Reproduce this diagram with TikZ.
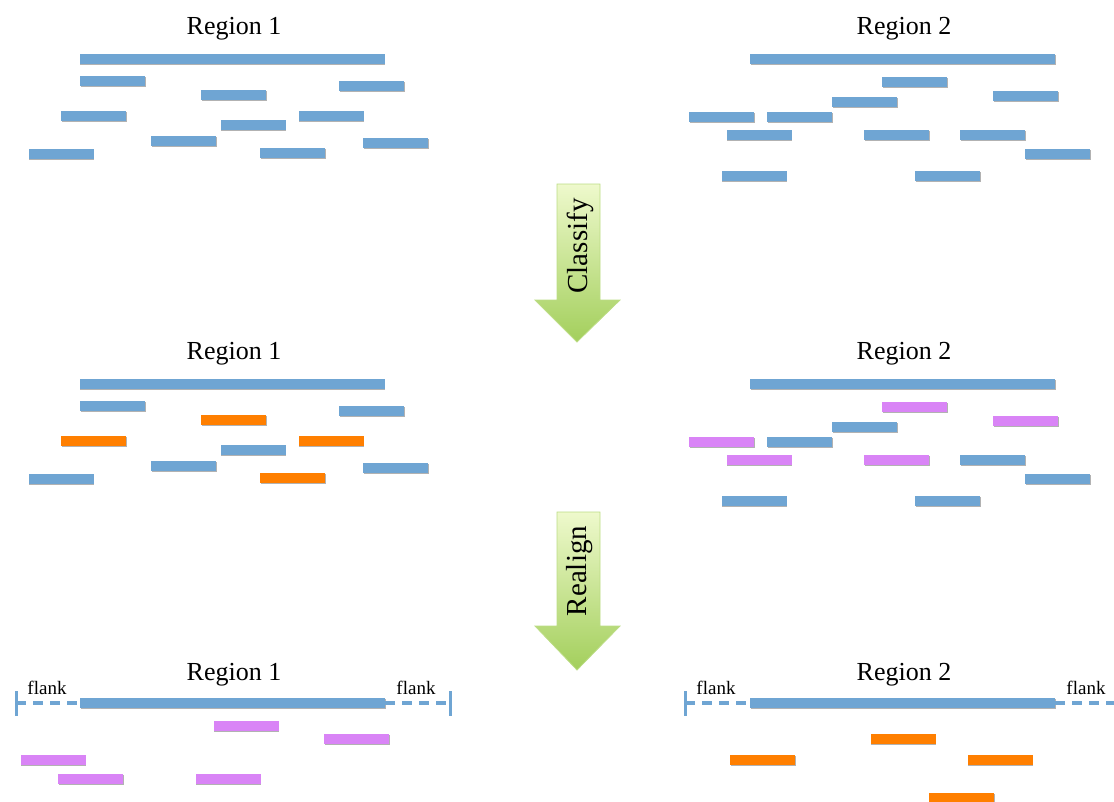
\documentclass[tikz,border=0pt]{standalone}
\usepackage{fontspec}
\setmainfont{Liberation Serif}
\usetikzlibrary{shadows}

\definecolor{readblue}{HTML}{6FA5D3}
\definecolor{readorange}{HTML}{FF7F00}
\definecolor{readviolet}{HTML}{D984F6}
\definecolor{arrowtop}{HTML}{EEF9CC}
\definecolor{arrowbot}{HTML}{A3CF5C}
\definecolor{arrowedge}{HTML}{BCDC85}

\tikzset{
  read/.style={rectangle, minimum width=65pt, minimum height=10pt,
    inner sep=0pt, outer sep=0pt,
    drop shadow={shadow xshift=0.6pt, shadow yshift=-1.2pt, opacity=0.3, fill=black}},
  contig/.style={read, fill=readblue, minimum width=305pt},
  regionlabel/.style={anchor=base, inner sep=0pt, font=\fontsize{26}{30}\selectfont},
  flanklabel/.style={anchor=base, inner sep=0pt, font=\fontsize{19}{22}\selectfont},
  flankline/.style={readblue, line width=4pt, dash pattern=on 10pt off 7pt},
  flanktick/.style={readblue, line width=3pt},
  steparrow/.style={top color=arrowtop, bottom color=arrowbot, draw=arrowedge, line width=0.8pt},
  steplabel/.style={rotate=90, inner sep=0pt, font=\fontsize{29}{33}\selectfont}
}

% \readbar{name}{centre x}{centre y}{colour}
\newcommand\readbar[4]{\node[read, fill=#4] (#1) at (#2,#3) {};}

\begin{document}
\begin{tikzpicture}[x=1pt, y=-1pt]
\useasboundingbox (0,0) rectangle (1114,801);

% ---------- raw reads ----------
\node[regionlabel] (t1) at (234,34) {Region 1};
\node[regionlabel] (t2) at (904,34) {Region 2};
\node[contig] (c1a) at (232,59) {};
\node[contig] (c2a) at (902.5,59) {};

\readbar{a1}{112.5}{81}{readblue}
\readbar{a2}{233.5}{95}{readblue}
\readbar{a3}{371.5}{86}{readblue}
\readbar{a4}{93.5}{116}{readblue}
\readbar{a5}{253}{125}{readblue}
\readbar{a6}{331}{116}{readblue}
\readbar{a7}{183.5}{141}{readblue}
\readbar{a8}{61}{154}{readblue}
\readbar{a9}{292.5}{153}{readblue}
\readbar{a10}{395.5}{143}{readblue}

\readbar{b1}{914.5}{82}{readblue}
\readbar{b2}{864.5}{102}{readblue}
\readbar{b3}{1025.5}{96}{readblue}
\readbar{b4}{721.5}{117}{readblue}
\readbar{b5}{799.5}{117}{readblue}
\readbar{b6}{759}{135}{readblue}
\readbar{b7}{896.5}{135}{readblue}
\readbar{b8}{992.5}{135}{readblue}
\readbar{b9}{1057.5}{154}{readblue}
\readbar{b10}{754}{176}{readblue}
\readbar{b11}{947.5}{176}{readblue}

% ---------- Classify arrow ----------
\shade[steparrow] (557,184) -- (600,184) -- (600,300) -- (620,300) -- (577,342)
  -- (535,300) -- (557,300) -- cycle;
\node[steplabel] (classify) at (580,246) {Classify};

% ---------- classified reads ----------
\node[regionlabel] (m1) at (234,359) {Region 1};
\node[regionlabel] (m2) at (904,359) {Region 2};
\node[contig] (c1b) at (232,384) {};
\node[contig] (c2b) at (902.5,384) {};

\readbar{p1}{112.5}{406}{readblue}
\readbar{p2}{233.5}{420}{readorange}
\readbar{p3}{371.5}{411}{readblue}
\readbar{p4}{93.5}{441}{readorange}
\readbar{p5}{253}{450}{readblue}
\readbar{p6}{331}{441}{readorange}
\readbar{p7}{183.5}{466}{readblue}
\readbar{p8}{61}{479}{readblue}
\readbar{p9}{292.5}{478}{readorange}
\readbar{p10}{395.5}{468}{readblue}

\readbar{q1}{914.5}{407}{readviolet}
\readbar{q2}{864.5}{427}{readblue}
\readbar{q3}{1025.5}{421}{readviolet}
\readbar{q4}{721.5}{442}{readviolet}
\readbar{q5}{799.5}{442}{readblue}
\readbar{q6}{759}{460}{readviolet}
\readbar{q7}{896.5}{460}{readviolet}
\readbar{q8}{992.5}{460}{readblue}
\readbar{q9}{1057.5}{479}{readblue}
\readbar{q10}{754}{501}{readblue}
\readbar{q11}{947.5}{501}{readblue}

% ---------- Realign arrow ----------
\shade[steparrow] (557,512) -- (600,512) -- (600,626) -- (620,626) -- (577,670)
  -- (535,626) -- (557,626) -- cycle;
\node[steplabel] (realign) at (580,571) {Realign};

% ---------- realigned reads with flanks ----------
\node[regionlabel] (b1l) at (234,680) {Region 1};
\node[regionlabel] (b2l) at (904,680) {Region 2};

\coordinate (f1l) at (16,703);
\coordinate (f1r) at (450,703);
\coordinate (f2l) at (685,703);
\coordinate (f2r) at (1114,703);
\node[contig] (c1c) at (232.5,703) {};
\node[contig] (c2c) at (902.5,703) {};
\draw[flankline] (f1l) -- (c1c.west);
\draw[flankline] (c1c.east) -- (f1r);
\draw[flankline] (f2l) -- (c2c.west);
\draw[flankline] (c2c.east) -- (f2r);
\draw[flanktick] ([yshift=12pt]f1l) -- ([yshift=-13pt]f1l);
\draw[flanktick] ([yshift=12pt]f1r) -- ([yshift=-13pt]f1r);
\draw[flanktick] ([yshift=12pt]f2l) -- ([yshift=-13pt]f2l);

\node[flanklabel] (fl1) at (47,694) {flank};
\node[flanklabel] (fl2) at (416,694) {flank};
\node[flanklabel] (fl3) at (716,694) {flank};
\node[flanklabel] (fl4) at (1086,694) {flank};

\readbar{s1}{246}{726}{readviolet}
\readbar{s2}{356.5}{739}{readviolet}
\readbar{s3}{53}{760}{readviolet}
\readbar{s4}{90.5}{779}{readviolet}
\readbar{s5}{228}{779}{readviolet}

\readbar{u1}{903}{739}{readorange}
\readbar{u2}{762.5}{760}{readorange}
\readbar{u3}{1000}{760}{readorange}
\readbar{u4}{961.5}{798}{readorange}
\end{tikzpicture}
\end{document}
